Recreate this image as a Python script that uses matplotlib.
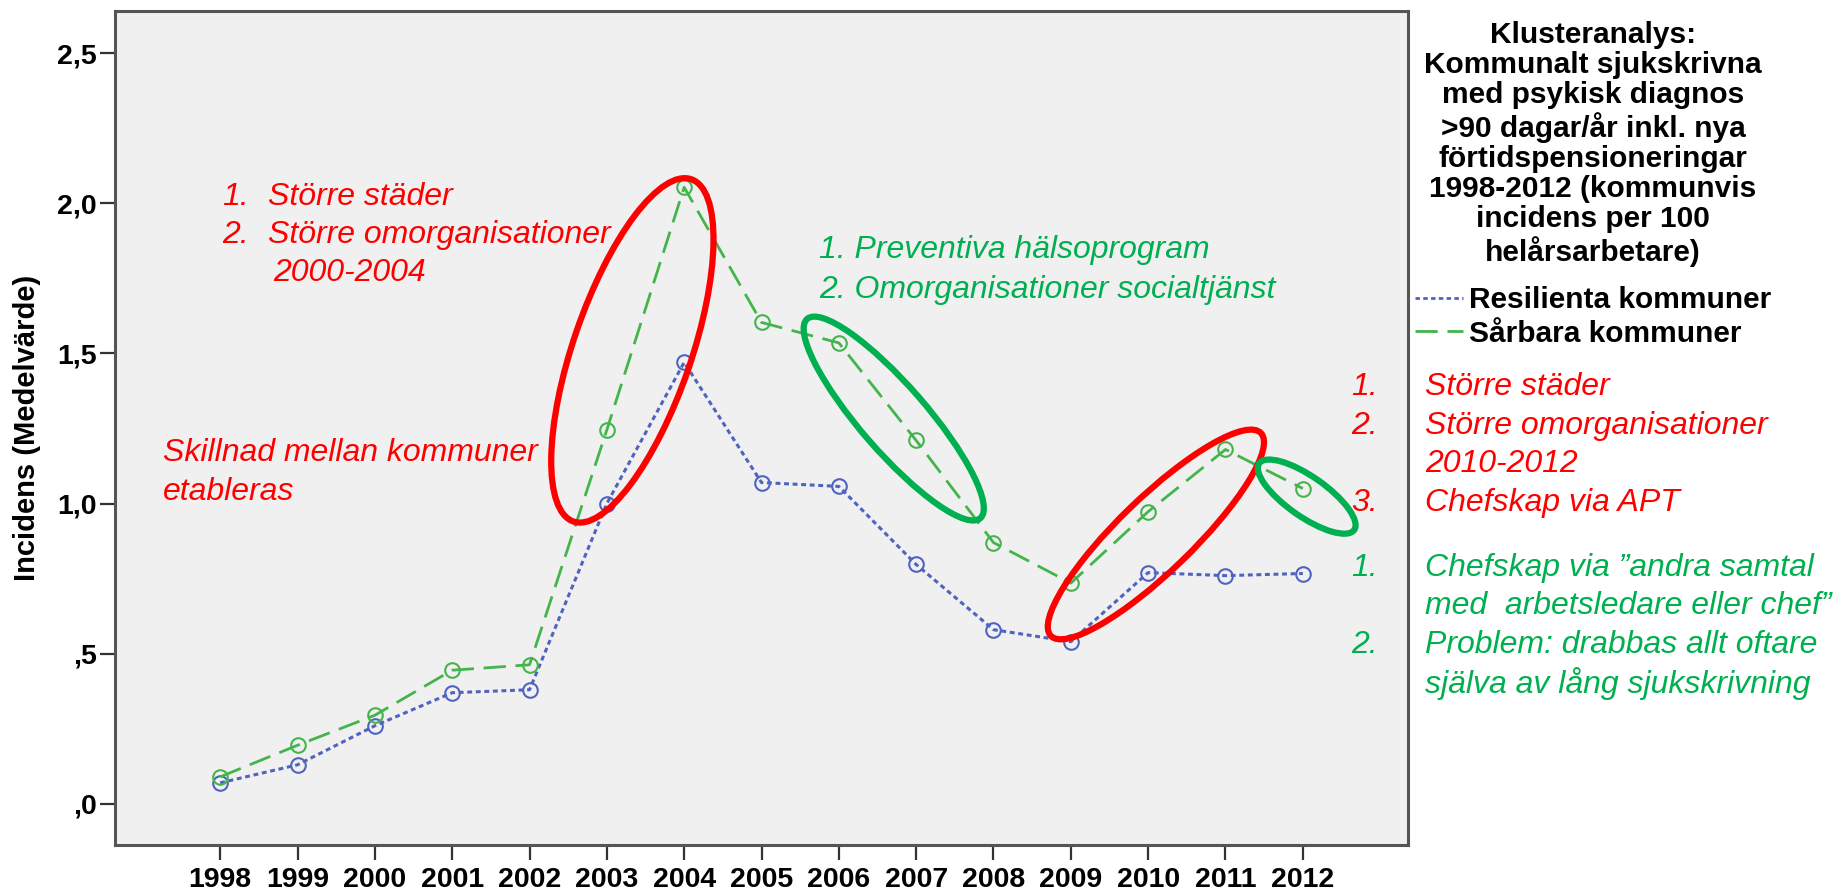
import matplotlib.pyplot as plt
import matplotlib
from matplotlib.patches import Ellipse
from matplotlib.transforms import ScaledTranslation
from matplotlib.ticker import FuncFormatter

matplotlib.rcParams['font.family'] = ['Liberation Sans', 'DejaVu Sans']

# ---------- data ----------
years = [1998, 1999, 2000, 2001, 2002, 2003, 2004, 2005, 2006, 2007, 2008, 2009, 2010, 2011, 2012]
resilienta = [0.07, 0.13, 0.26, 0.37, 0.38, 1.00, 1.47, 1.07, 1.057, 0.797, 0.58, 0.54, 0.77, 0.76, 0.767]
sarbara = [0.09, 0.195, 0.295, 0.445, 0.463, 1.245, 2.053, 1.603, 1.535, 1.21, 0.87, 0.735, 0.973, 1.18, 1.05]
series_labels = ['Resilienta kommuner', 'Sårbara kommuner']
y_ticks = [0.0, 0.5, 1.0, 1.5, 2.0, 2.5]

legend_title = ('Klusteranalys:\nKommunalt sjukskrivna\nmed psykisk diagnos\n'
                '>90 dagar/år inkl. nya\nförtidspensioneringar\n1998-2012 (kommunvis\n'
                'incidens per 100\nhelårsarbetare)')

# ringar runt perioder: (mitt-år, mitt-värde, bredd px, höjd px, vinkel, färg)
RED = '#ff0000'
GREEN = '#00b050'
rings = [
    (2003.33, 1.51, 362, 118, 71, RED),
    (2006.71, 1.283, 264, 66, -49, GREEN),
    (2010.10, 0.897, 292, 74, 44, RED),
    (2012.05, 1.023, 116, 40, -35, GREEN),
]

BLUE = '#4f63bf'
LGREEN = '#44b44c'

W, H = 1843, 894
fig = plt.figure(figsize=(W / 100, H / 100), dpi=100)
ax = fig.add_axes([115 / W, 1 - 845 / H, (1408 - 115) / W, (845 - 11) / H])
ax.set_facecolor('#f0f0f0')

ax.plot(years, resilienta, color=BLUE, lw=2.2, linestyle=(0, (1.6, 1.2)),
        marker='o', markersize=10.5, markerfacecolor='none', markeredgecolor=BLUE,
        markeredgewidth=1.5, label=series_labels[0])
ax.plot(years, sarbara, color=LGREEN, lw=2.0, linestyle=(0, (8, 3.5)),
        marker='o', markersize=10.5, markerfacecolor='none', markeredgecolor=LGREEN,
        markeredgewidth=1.5, label=series_labels[1])

ax.set_xlim(1996.64, 2013.36)
ax.set_ylim(-0.137, 2.64)
ax.set_xticks(years)
ax.set_yticks(y_ticks)


def fmt(v, pos):
    s = f"{v:.1f}".replace('.', ',')
    return s[1:] if s.startswith('0') else s


ax.yaxis.set_major_formatter(FuncFormatter(fmt))
ax.tick_params(axis='both', length=11, width=1.6, color='#333333', labelsize=20.5)
ax.tick_params(axis='x', pad=5)
ax.tick_params(axis='y', pad=2)
for lab in ax.get_xticklabels() + ax.get_yticklabels():
    lab.set_fontweight('bold')
for sp in ax.spines.values():
    sp.set_color('#555555')
    sp.set_linewidth(2.2)

ax.set_ylabel('Incidens (Medelvärde)', fontsize=21, fontweight='bold')
ax.yaxis.set_label_coords(-74 / (1408 - 115), 0.5)

# ringar
for cx, cy, w, h, ang, col in rings:
    trans = fig.dpi_scale_trans + ScaledTranslation(cx, cy, ax.transData)
    ax.add_patch(Ellipse((0, 0), w / 100, h / 100, angle=ang, transform=trans,
                         fill=False, edgecolor=col, linewidth=4.5, clip_on=False, zorder=5))

# legend
leg = fig.legend(loc='upper left', bbox_to_anchor=(1406 / W, 1 - 12 / H), frameon=False,
                 title=legend_title, handlelength=1.6, handletextpad=0.2,
                 labelspacing=0.18, borderaxespad=0, borderpad=0.3,
                 prop={'weight': 'bold', 'size': 21.5},
                 title_fontproperties={'weight': 'bold', 'size': 21.5})
leg.get_title().set_linespacing(1.1)
leg.get_title().set_multialignment('center')
leg._legend_box.sep = 14
for line in leg.get_lines():
    line.set_marker('')
    line.set_linewidth(2)

FS = 23


def ftext(x, y, s, color, ha='left'):
    fig.text(x / W, 1 - y / H, s, color=color, fontsize=FS, style='italic',
             va='center', ha=ha)


# vänster text
ftext(222, 197, '1.', RED)
ftext(268, 197, 'Större städer', RED)
ftext(222, 235, '2.', RED)
ftext(268, 235, 'Större omorganisationer', RED)
ftext(273, 273, '2000-2004', RED)
ftext(163, 453, 'Skillnad mellan kommuner', RED)
ftext(163, 492, 'etableras', RED)

# mitten text
ftext(819, 250, '1. Preventiva hälsoprogram', GREEN)
ftext(819, 290, '2. Omorganisationer socialtjänst', GREEN)

# höger text
right_red = [('1.', 'Större städer'), ('2.', 'Större omorganisationer'),
             ('', '2010-2012'), ('3.', 'Chefskap via APT')]
right_green = [('1.', 'Chefskap via ”andra samtal'), ('', 'med  arbetsledare eller chef”'),
               ('2.', 'Problem: drabbas allt oftare'), ('', 'själva av lång sjukskrivning')]
for i, (num, txt) in enumerate(right_red):
    y = 387 + i * 38.5
    ftext(1378, y, num, RED, ha='right')
    ftext(1425, y, txt, RED)
for i, (num, txt) in enumerate(right_green):
    y = 568 + i * 38.5
    ftext(1378, y, num, GREEN, ha='right')
    ftext(1425, y, txt, GREEN)

fig.savefig('out.png', dpi=100)
